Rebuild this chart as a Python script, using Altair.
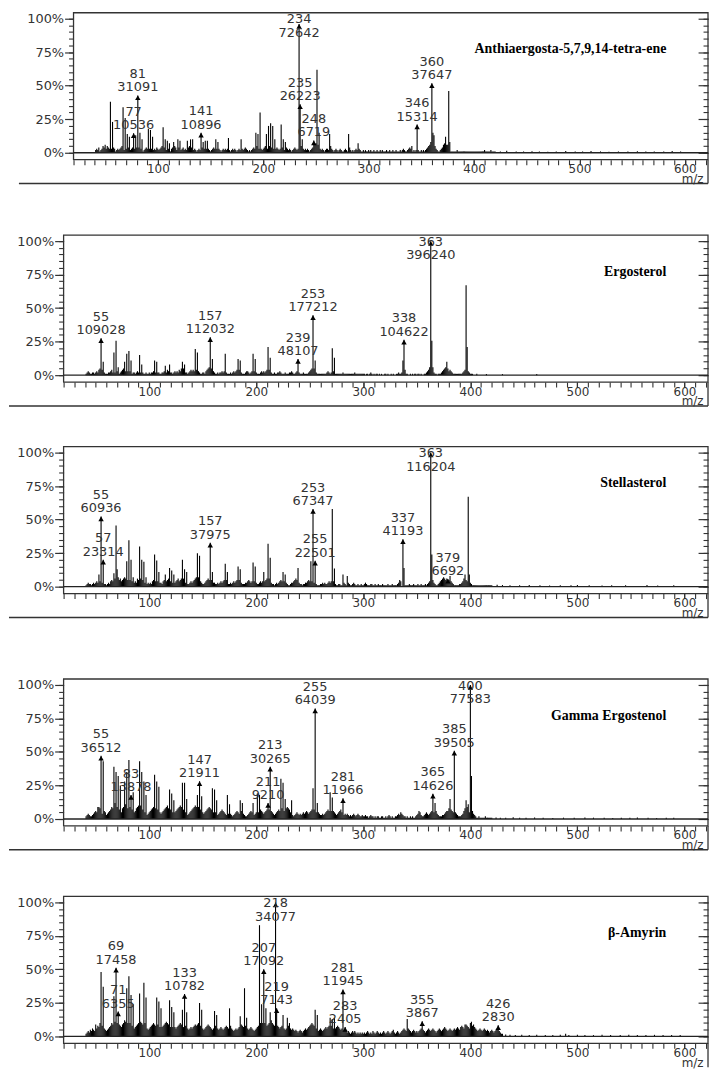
import altair as alt
import pandas as pd

FONT = "DejaVu Sans"
SERIF = "Liberation Serif"
INK = "#333333"
X_DOMAIN = [20, 622]
Y_DOMAIN = [-5.19, 104.44]
H = 148
W = 649
GRASS_START = 41

# ---------------- Panel 1 : Anthiaergosta-5,7,9,14-tetra-ene ----------------
p1_name = "Anthiaergosta-5,7,9,14-tetra-ene"
p1_grass = [
    2,3,2,4,1,2,3,5,4,6,3,5,4,3,2,3,2,4,3,1,
    2,3,2,3,4,5,3,2,4,3,5,4,3,2,3,4,5,3,6,4,
    3,4,5,3,2,1,2,3,4,3,5,3,4,3,2,2,3,2,4,3,
    2,3,4,5,3,4,3,2,4,3,2,1,3,4,3,5,4,2,3,4,
    3,2,3,4,2,3,2,3,4,5,3,4,3,2,3,2,1,2,3,2,
    3,4,2,3,4,3,2,3,2,1,2,3,4,3,2,3,4,3,2,1,
    2,3,2,3,2,3,4,2,1,2,3,2,3,2,1,2,3,2,2,3,
    2,3,4,3,2,1,2,1,2,3,4,3,2,5,4,3,4,3,2,3,
    4,5,4,3,4,5,6,4,5,3,2,3,4,3,2,3,5,4,3,2,
    3,4,3,2,3,2,1,2,3,4,3,2,3,6,8,5,4,3,2,3,
    2,3,2,1,2,3,4,5,6,7,8,6,4,3,2,3,2,1,2,3,
    3,2,4,5,3,2,1,2,3,2,1,2,3,2,1,1,2,3,2,1,
    3,4,2,1,2,1,2,3,2,4,3,2,1,1,2,1,2,1,1,2,
    1,2,1,1,2,1,1,2,1,1,2,1,2,1,1,1,2,1,1,2,
    1,1,2,1,1,2,1,1,1,2,1,2,3,2,1,1,2,3,4,3,
    2,1,2,1,2,3,2,1,1,2,1,2,1,2,3,4,5,6,8,10,
    8,7,5,3,2,1,1,2,3,4,6,7,8,6,4,3,2,1,1,1,
    1,1,1,2,1,1,1,1,1,1,1,1,1,1,1,1,1,1,1,1,
    1,1,1,1,1,1,1,1,1,2,1,1,1,1,1,2,1,1,1,1,
]
p1_tail_mz = [425, 431, 440, 447, 455, 462, 470, 478, 487, 496, 503, 511, 520, 528, 537, 546, 555, 563, 571, 580, 588, 596]
p1_tail_pct = [1, 1.5, 1, 1, 1.2, 1, 0.8, 1, 1.3, 1, 1, 1.4, 1, 0.8, 1, 1, 1.2, 1, 0.9, 1, 1.3, 1]
p1_peak_mz = [55, 57, 67, 69, 71, 73, 79, 83, 85, 91, 93, 95, 105, 107, 109, 111, 115, 119, 121, 128, 131, 133,
              143, 145, 147, 155, 157, 167, 179, 193, 195, 197, 203, 205, 207, 209, 211, 217, 219, 221, 237,
              251, 253, 263, 281, 290, 341, 361, 362, 373, 375, 376, 377]
p1_peak_pct = [38, 23, 34, 26, 14, 12, 13, 15, 10, 18, 17, 12, 19, 10, 9, 7, 8, 10, 9, 9, 10, 10,
               8, 9, 9, 10, 8, 11, 10, 15, 14, 30, 14, 20, 22, 20, 10, 21, 10, 8, 10,
               62, 15, 14, 14, 7, 5, 15, 13, 12, 6, 46, 8]
p1_lab_mz = [77, 81, 141, 234, 235, 248, 346, 360]
p1_lab_ab = [10536, 31091, 10896, 72642, 26223, 6719, 15314, 37647]
p1_lab_pct = [14.5, 42.8, 15.0, 96.0, 36.1, 9.2, 21.1, 51.8]

# ---------------- Panel 2 : Ergosterol ----------------
p2_name = "Ergosterol"
p2_grass = [
    1,2,3,2,1,1,2,2,1,2,3,2,4,5,2,4,3,2,1,1,
    1,2,2,3,4,2,3,2,4,3,2,1,2,3,4,5,4,3,5,3,
    4,3,2,1,2,2,1,2,3,2,4,2,3,2,1,1,2,1,1,2,
    1,2,2,3,3,2,3,2,2,1,1,2,2,3,3,2,4,3,3,2,
    2,1,2,3,2,3,2,4,3,5,4,5,3,2,2,1,2,3,4,3,
    4,3,5,4,6,3,2,1,1,2,2,1,3,4,5,6,8,5,4,3,
    2,1,1,2,1,2,2,3,2,3,4,2,1,1,1,2,1,2,3,2,
    3,4,5,4,3,2,1,1,1,2,3,3,2,1,2,3,4,3,2,2,
    1,1,1,2,3,2,3,2,3,4,5,4,3,2,1,1,2,1,1,2,
    2,3,2,1,1,1,2,1,1,1,2,2,3,2,1,1,2,3,3,2,
    1,1,1,2,1,1,1,1,2,3,4,5,6,5,3,2,1,1,1,1,
    1,1,1,1,1,2,3,2,1,2,4,3,2,1,1,1,1,1,1,1,
    2,1,1,1,1,1,1,1,1,1,1,2,1,1,1,1,1,1,1,1,
    1,0,1,1,0,1,2,1,0,1,0,1,1,0,1,0,1,0,0,1,
    1,0,1,0,0,1,0,1,0,0,1,1,2,1,1,2,3,6,4,1,
    1,0,0,1,0,1,0,1,1,0,1,1,0,1,0,0,1,1,2,3,
    4,6,0,0,4,2,1,1,0,1,1,1,2,3,4,5,6,4,5,3,
    4,3,2,1,1,1,1,1,1,1,1,1,2,3,4,0,0,3,2,1,
    1,1,0,0,0,1,0,0,0,0,0,0,0,0,0,0,0,0,0,0,
]
p2_tail_mz = [415, 430, 462]
p2_tail_pct = [0.8, 0.8, 0.8]
p2_peak_mz = [57, 67, 69, 71, 77, 79, 81, 83, 91, 93, 105, 107, 115, 119, 131, 133, 143, 145, 159, 171,
              183, 185, 197, 199, 211, 213, 255, 271, 273, 337, 364, 365, 378, 396, 397]
p2_peak_pct = [10, 17, 25.6, 6, 10, 16, 18, 11, 15, 8, 11, 10, 7, 8, 10, 8, 19.5, 17, 12, 16,
               12, 11, 16, 12, 21, 13, 11, 20, 13, 11, 25.6, 6, 10, 67, 21]
p2_lab_mz = [55, 157, 239, 253, 338, 363]
p2_lab_ab = [109028, 112032, 48107, 177212, 104622, 396240]
p2_lab_pct = [27.5, 28.3, 12.1, 44.7, 26.4, 100]

# ---------------- Panel 3 : Stellasterol ----------------
p3_name = "Stellasterol"
p3_grass = [
    1,2,3,2,2,1,2,3,2,3,4,3,9,4,5,3,4,2,2,1,
    2,3,2,4,5,4,10,6,8,5,7,5,6,4,5,6,7,6,8,5,
    6,5,7,4,5,3,4,3,6,5,8,6,7,5,4,3,2,2,3,2,
    3,2,4,5,6,4,5,4,5,3,3,2,4,5,6,4,5,6,5,4,
    5,3,4,3,4,5,6,4,5,6,5,6,4,3,4,2,2,3,4,3,
    4,5,6,7,6,7,5,4,3,2,2,3,4,5,6,5,7,5,4,3,
    3,2,2,3,2,3,4,3,4,5,4,5,3,2,2,3,2,3,4,3,
    4,5,4,5,4,3,2,2,2,3,3,4,5,4,3,4,5,4,3,3,
    2,2,3,4,3,4,5,4,5,6,5,6,4,3,2,2,1,2,3,2,
    3,4,5,4,5,4,5,3,2,1,1,2,3,3,4,5,6,5,4,3,
    2,2,1,2,2,3,3,4,5,4,5,4,4,3,3,2,1,1,1,2,
    2,3,2,3,2,2,3,4,3,4,5,4,3,2,1,1,2,2,1,1,
    2,3,2,1,2,3,2,1,1,2,3,2,1,1,2,1,1,2,1,1,
    2,3,2,1,1,1,2,2,1,1,2,1,1,2,1,1,1,2,1,1,
    1,1,2,1,1,1,2,1,1,1,1,2,3,5,4,0,6,2,1,1,
    1,1,2,1,1,1,2,1,1,1,2,1,1,2,1,1,1,2,1,2,
    3,4,0,0,5,3,2,1,1,2,3,4,5,6,7,6,5,6,0,5,
    8,4,3,2,1,1,1,1,1,2,2,3,4,6,9,5,4,0,6,3,
    2,1,1,1,1,1,1,1,1,1,1,1,1,1,1,1,1,1,1,1,
]
p3_tail_mz = [425, 430, 437, 446, 455, 465, 474, 484, 494, 500, 511, 523, 532, 545, 565, 575, 590]
p3_tail_pct = [1.5, 1.2, 1, 1, 1.2, 1, 0.8, 1, 1, 1.3, 1, 0.8, 1, 1, 1.2, 0.8, 1]
p3_peak_mz = [53, 67, 69, 70, 71, 79, 81, 83, 85, 91, 93, 95, 97, 105, 107, 109, 115, 119, 121, 123, 131, 133,
              135, 145, 147, 159, 171, 173, 183, 185, 197, 199, 207, 211, 213, 225, 227, 239, 251, 271, 273,
              281, 285, 338, 364, 381, 398, 399]
p3_peak_pct = [9, 10, 45.7, 13, 7, 19, 34.6, 20, 7, 30, 20, 18.5, 7, 24, 19.5, 11, 9, 14, 12, 9, 20, 13,
               11, 25, 23, 11, 17, 11, 15, 13, 18, 15, 11, 32, 21.5, 11, 9, 14, 19, 58, 13.6,
               9, 8, 14, 24, 8, 67, 9]
p3_lab_mz = [55, 57, 157, 253, 255, 337, 363, 379]
p3_lab_ab = [60936, 23314, 37975, 67347, 22501, 41193, 116204, 6692]
p3_lab_pct = [52.4, 20.1, 32.7, 58.0, 19.4, 35.4, 100, 5.8]

# ---------------- Panel 4 : Gamma Ergostenol ----------------
p4_name = "Gamma Ergostenol"
p4_grass = [
    2,3,4,3,2,2,3,4,5,6,5,9,7,8,5,4,8,6,5,3,
    4,5,6,7,9,8,10,12,10,9,8,7,6,5,8,9,10,11,9,8,
    10,9,8,7,6,5,6,8,9,10,12,10,8,7,6,5,4,3,4,5,
    6,7,8,9,10,8,9,7,6,5,4,5,6,7,8,9,10,8,9,7,
    6,5,4,5,6,7,8,9,10,9,8,7,6,5,4,3,4,5,6,7,
    8,9,10,9,8,9,8,7,6,5,4,5,6,7,8,9,8,7,6,5,
    4,5,4,3,4,5,6,7,6,5,4,3,3,4,5,4,3,2,3,4,
    5,6,5,4,5,6,5,4,3,2,2,3,4,5,6,5,4,3,4,5,
    6,5,6,7,6,5,4,5,6,7,8,7,8,6,5,4,3,4,5,6,
    7,6,7,8,7,6,7,8,9,8,7,5,4,3,2,3,4,5,4,3,
    4,3,4,5,4,5,6,5,4,5,6,7,8,7,6,5,6,5,4,3,
    3,4,3,4,5,6,7,6,5,6,7,6,5,4,3,4,5,6,7,5,
    4,3,4,3,4,3,2,3,2,3,4,3,2,3,4,3,2,2,3,2,
    2,3,2,2,1,2,3,2,2,1,2,1,2,2,1,1,2,2,1,1,
    2,1,2,3,2,1,2,1,1,2,2,3,4,3,5,4,3,2,2,1,
    2,1,1,2,1,2,1,1,2,3,4,6,5,3,2,2,3,4,5,4,
    3,4,5,6,0,5,0,6,4,3,2,2,2,3,3,4,5,6,6,8,
    10,7,6,5,0,5,4,3,2,2,2,3,4,6,8,12,9,10,5,0,
    0,6,4,3,2,1,1,2,1,1,1,1,1,2,1,1,1,1,1,1,
]
p4_tail_mz = [424, 428, 433, 440, 446, 452, 460, 468, 477, 487, 497, 507, 515, 525, 533, 541, 549, 556, 566, 574, 583, 590]
p4_tail_pct = [1.2, 1, 1, 1.3, 1, 1, 1.2, 1, 0.8, 1, 1, 1.2, 1, 1, 0.8, 1, 1, 1.2, 1, 0.8, 1, 1]
p4_peak_mz = [53, 57, 67, 69, 71, 73, 77, 79, 81, 85, 91, 93, 95, 97, 105, 107, 109, 119, 121, 123, 131, 133,
              135, 145, 149, 159, 161, 163, 173, 175, 185, 187, 197, 201, 203, 223, 225, 227, 233, 253,
              257, 269, 271, 367, 381, 396, 398, 401]
p4_peak_pct = [9, 43, 39, 35, 32, 25, 28, 35, 44, 20, 43, 35, 28, 18, 33, 28, 24, 22, 19, 14, 27, 27,
               15, 18, 17, 23, 22, 14, 18, 11, 14, 12, 12, 19, 18, 30, 27, 15, 14, 23,
               12, 20, 16, 12, 15, 14, 11, 32]
p4_lab_mz = [55, 83, 147, 211, 213, 255, 281, 365, 385, 400]
p4_lab_ab = [36512, 13878, 21911, 9210, 30265, 64039, 11966, 14626, 39505, 77583]
p4_lab_pct = [47.1, 17.9, 28.2, 11.9, 39.0, 82.5, 15.4, 18.9, 50.9, 100]

# ---------------- Panel 5 : beta-Amyrin ----------------
p5_name = "β-Amyrin"
p5_grass = [
    2,3,4,3,5,4,6,5,4,9,6,8,7,10,12,8,7,6,5,4,
    5,6,7,8,10,9,12,11,13,10,12,9,8,7,9,10,12,11,13,10,
    12,10,9,8,7,6,7,8,9,10,12,11,10,9,11,10,8,6,5,6,
    7,8,9,10,9,8,10,9,8,7,6,7,8,9,10,11,10,9,8,7,
    6,7,8,7,6,7,8,9,10,9,8,7,9,8,7,6,5,6,7,6,
    7,8,9,8,9,10,9,8,7,6,5,6,7,8,9,8,7,6,5,6,
    7,8,7,6,5,6,7,6,5,6,7,8,7,6,7,8,6,5,4,5,
    6,5,6,7,8,9,8,7,10,8,7,6,5,6,7,6,5,4,5,6,
    7,8,9,10,9,10,11,10,9,8,9,10,11,12,10,9,8,9,10,8,
    7,6,7,8,7,6,5,6,7,8,7,6,5,6,5,4,5,4,3,4,
    5,4,3,4,5,6,5,6,7,8,9,10,9,8,7,6,5,4,5,6,
    5,4,5,6,7,6,7,8,9,8,7,6,5,6,7,8,7,6,5,6,
    5,4,5,4,3,4,3,2,3,4,3,4,3,2,3,2,3,2,3,2,
    3,2,3,4,3,2,3,2,4,3,2,3,4,3,2,3,2,3,4,3,
    2,3,4,3,2,3,4,5,3,2,3,4,3,2,3,4,5,6,5,4,
    12,6,5,4,3,4,5,4,3,4,3,4,5,6,0,5,4,3,4,5,
    6,5,4,5,6,5,4,3,4,5,6,5,4,5,6,7,6,5,4,5,
    6,5,4,5,6,5,6,7,6,5,7,8,7,6,5,9,8,7,6,10,
    11,8,9,7,6,5,4,5,6,5,4,5,6,5,4,5,4,3,4,5,
    4,3,4,5,6,0,4,3,2,2,
]
p5_tail_mz = [433, 437, 442, 448, 455, 462, 470, 477, 484, 489, 492, 500, 507, 515, 523, 531, 540, 548, 556, 564, 572, 580, 588, 596]
p5_tail_pct = [1.5, 1.2, 1, 1.3, 1, 1.2, 1, 1, 1.3, 2, 1, 1.2, 1, 1, 1.2, 1, 1, 1.3, 1, 1, 1.2, 1, 1, 1]
p5_peak_mz = [55, 57, 67, 79, 81, 83, 85, 91, 95, 97, 107, 109, 111, 119, 121, 123, 131, 135, 147, 149,
              161, 163, 175, 185, 189, 191, 203, 205, 209, 213, 225, 229, 231, 255, 257, 269, 271, 273,
              341, 395, 401, 403]
p5_peak_pct = [48, 37, 30, 36, 45, 31, 24, 32, 40, 29, 29, 26, 21, 27, 22, 18, 20, 18, 25, 20,
               19, 16, 21, 15, 36, 14, 83, 24, 21, 18, 16, 14, 10, 20, 16, 14, 13, 14,
               13, 9, 11, 9]
p5_lab_mz = [69, 71, 133, 207, 218, 219, 281, 283, 355, 426]
p5_lab_ab = [17458, 6355, 10782, 17092, 34077, 7143, 11945, 2405, 3867, 2830]
p5_lab_pct = [51.2, 18.6, 31.6, 50.2, 100, 21.0, 35.1, 7.1, 11.3, 8.3]


def stick_table(grass, tail_mz, tail_pct, pk_mz, pk_pct, lab_mz, lab_pct):
    d = {}
    for i, v in enumerate(grass):
        if v > 0:
            d[GRASS_START + i] = v
    for m, v in zip(tail_mz, tail_pct):
        d[m] = max(d.get(m, 0), v)
    for m, v in zip(pk_mz, pk_pct):
        d[m] = v
    for m, v in zip(lab_mz, lab_pct):
        d[m] = v
    return pd.DataFrame({"mz": list(d.keys()), "pct": list(d.values())})


def label_table(mz, ab, pct):
    return pd.DataFrame({"mz": mz, "pct": pct,
                         "mzt": [str(m) for m in mz], "abt": [str(a) for a in ab]})


def panel(name, sticks, labs, inset=0, last=False):
    # inset: the plot frame of this panel starts `inset` px to the right of the others
    xs = alt.Scale(domain=X_DOMAIN, range=[inset, W], nice=False, zero=False)
    ys = alt.Scale(domain=Y_DOMAIN, nice=False, zero=False)
    major_y = [0, 25, 50, 75, 100]
    minor_y = list(range(0, 105, 5))
    x_major = alt.Axis(orient="bottom", values=[100, 200, 300, 400, 500, 600], tickSize=5,
                       tickColor=INK, tickWidth=1.2, domain=False, grid=False,
                       labelFont=FONT, labelFontSize=12, labelColor=INK, labelPadding=-1,
                       title="m/z", titleFont=FONT, titleFontSize=12, titleFontWeight="normal",
                       titleColor=INK, titleX=W - 5, titleY=23, titleAlign="right",
                       titleBaseline="alphabetic")
    x_minor = alt.Axis(orient="bottom", values=list(range(20, 630, 10)), tickSize=5,
                       tickColor=INK, tickWidth=1.1, domain=False, grid=False, labels=False,
                       title=None)
    y_major = alt.Axis(orient="left", values=major_y, tickSize=9, tickColor=INK, tickWidth=1.2,
                       offset=-inset, domain=False, grid=False, labelFont=FONT, labelFontSize=13,
                       labelColor=INK, labelPadding=1, labelExpr="datum.value + '%'",
                       minExtent=55, maxExtent=55, title=None)
    y_minor = alt.Axis(orient="left", values=minor_y, tickSize=5, tickColor=INK, tickWidth=1.1,
                       offset=-inset, domain=False, grid=False, labels=False, minExtent=0,
                       maxExtent=0, title=None)
    yr_major = alt.Axis(orient="right", values=major_y, tickSize=10, offset=-10, tickColor=INK,
                        tickWidth=1.2, domain=False, grid=False, labels=False, minExtent=0,
                        maxExtent=0, title=None)
    yr_minor = alt.Axis(orient="right", values=minor_y, tickSize=5, offset=-5, tickColor=INK,
                        tickWidth=1.1, domain=False, grid=False, labels=False, minExtent=0,
                        maxExtent=0, title=None)

    one = pd.DataFrame({"z": [0]})
    frame = alt.Chart(one).mark_rect(fillOpacity=0, stroke=INK, strokeWidth=1.3).encode(
        x=alt.value(inset), x2=alt.value(W), y=alt.value(0), y2=alt.value(H))
    sticks_l = alt.Chart(sticks).mark_rule(color="black", strokeWidth=1.1).encode(
        x=alt.X("mz:Q", scale=xs, axis=x_major),
        y=alt.Y("pct:Q", scale=ys, axis=y_major),
        y2=alt.datum(0),
    )
    base_l = alt.Chart(one).mark_rule(color="#222222", strokeWidth=1.3).encode(
        y=alt.Y("z:Q", scale=ys, axis=y_minor), x=alt.value(inset), x2=alt.value(W),
    )
    arrows = alt.Chart(labs).mark_point(shape="triangle-up", filled=True, size=30, color="black",
                                        opacity=1, yOffset=2.4).encode(
        x=alt.X("mz:Q", scale=xs, axis=x_minor),
        y=alt.Y("pct:Q", scale=ys, axis=yr_major),
    )
    ab_txt = alt.Chart(labs).transform_calculate(ly="min(datum.pct, 83.5)").mark_text(
        align="center", baseline="alphabetic", dy=-4, font=FONT, fontSize=13, color=INK).encode(
        x=alt.X("mz:Q", scale=xs, axis=None),
        y=alt.Y("ly:Q", scale=ys, axis=yr_minor),
        text="abt:N",
    )
    mz_txt = alt.Chart(labs).transform_calculate(ly="min(datum.pct, 83.5)").mark_text(
        align="center", baseline="alphabetic", dy=-17.5, font=FONT, fontSize=13, color=INK).encode(
        x=alt.X("mz:Q", scale=xs, axis=None),
        y=alt.Y("ly:Q", scale=ys, axis=None),
        text="mzt:N",
    )
    name_l = alt.Chart(pd.DataFrame({"t": [name]})).mark_text(
        align="right", baseline="alphabetic", font=SERIF, fontSize=14, fontWeight="bold",
        color="black").encode(x=alt.value(W - 42), y=alt.value(41), text="t:N")
    right_ext = alt.Chart(one).mark_rule(color=INK, strokeWidth=1.3).encode(
        x=alt.value(W), y=alt.value(H), y2=alt.value(H + 24))
    layers = [frame, sticks_l, base_l, arrows, ab_txt, mz_txt, name_l, right_ext]
    if not last:
        sep = alt.Chart(one).mark_rule(color=INK, strokeWidth=1.5).encode(
            x=alt.value(inset - 55), x2=alt.value(W), y=alt.value(172))
        layers.append(sep)
    return alt.layer(*layers).properties(
        width=W, height=H, view=alt.ViewBackground(strokeOpacity=0)
    ).resolve_axis(x="independent", y="independent")


pa = panel(p1_name, stick_table(p1_grass, p1_tail_mz, p1_tail_pct, p1_peak_mz, p1_peak_pct, p1_lab_mz, p1_lab_pct),
           label_table(p1_lab_mz, p1_lab_ab, p1_lab_pct), inset=10)
pb = panel(p2_name, stick_table(p2_grass, p2_tail_mz, p2_tail_pct, p2_peak_mz, p2_peak_pct, p2_lab_mz, p2_lab_pct),
           label_table(p2_lab_mz, p2_lab_ab, p2_lab_pct))
pc = panel(p3_name, stick_table(p3_grass, p3_tail_mz, p3_tail_pct, p3_peak_mz, p3_peak_pct, p3_lab_mz, p3_lab_pct),
           label_table(p3_lab_mz, p3_lab_ab, p3_lab_pct))
pd4 = panel(p4_name, stick_table(p4_grass, p4_tail_mz, p4_tail_pct, p4_peak_mz, p4_peak_pct, p4_lab_mz, p4_lab_pct),
            label_table(p4_lab_mz, p4_lab_ab, p4_lab_pct))
pe = panel(p5_name, stick_table(p5_grass, p5_tail_mz, p5_tail_pct, p5_peak_mz, p5_peak_pct, p5_lab_mz, p5_lab_pct),
           label_table(p5_lab_mz, p5_lab_ab, p5_lab_pct), last=True)

chart = alt.vconcat(
    pa,
    alt.vconcat(
        pb,
        alt.vconcat(
            pc,
            alt.vconcat(pd4, pe, spacing=45),
            spacing=60),
        spacing=39),
    spacing=50,
).properties(
    padding={"left": 0, "top": 0, "right": 0, "bottom": 0}
).configure_view(stroke=INK, strokeWidth=1.3)

chart.save("out.html", embed_options={"renderer": "svg", "actions": False})
